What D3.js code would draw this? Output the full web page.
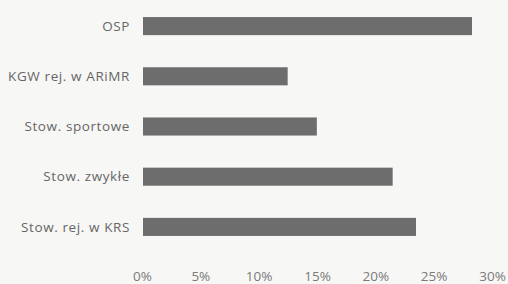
<!DOCTYPE html>
<html><head><meta charset="utf-8">
<script src="https://cdn.jsdelivr.net/npm/d3@7"></script>
<style>html,body{margin:0;padding:0;background:#f7f7f5;}svg{display:block;}</style>
</head><body>
<svg id="c" width="508" height="284"></svg>
<script>
const categories = ["OSP", "KGW rej. w ARiMR", "Stow. sportowe", "Stow. zwykłe", "Stow. rej. w KRS"];
const values = [28.2, 12.4, 14.9, 21.4, 23.4];
const tickValues = [0, 5, 10, 15, 20, 25, 30];

const svg = d3.select("#c");
const x = d3.scaleLinear().domain([0, 30]).range([142, 492]);
const y = d3.scaleBand().domain(categories).range([1, 252]).paddingInner(0.64).paddingOuter(0.32);

svg.append("g").selectAll("rect").data(categories).join("rect")
  .attr("x", x(0) + 1)
  .attr("y", d => y(d))
  .attr("width", (d, i) => x(values[i]) - x(0))
  .attr("height", y.bandwidth())
  .attr("fill", "#6d6d6d");

svg.append("g").selectAll("text").data(categories).join("text")
  .attr("x", x(0) - 12)
  .attr("y", d => y(d) + y.bandwidth() / 2)
  .attr("dy", "0.35em")
  .attr("text-anchor", "end")
  .attr("font-family", "Open Sans, sans-serif")
  .attr("font-size", 13.5)
  .attr("letter-spacing", 0.6)
  .attr("fill", "#666")
  .text(d => d);

const ax = svg.append("g").attr("transform", "translate(0,268)")
  .call(d3.axisBottom(x).tickValues(tickValues).tickFormat(d => d + "%").tickSize(0));
ax.select(".domain").remove();
ax.selectAll("text").attr("font-family", "Open Sans, sans-serif").attr("font-size", 13.5).attr("fill", "#7a7a7a");
</script>
</body></html>
